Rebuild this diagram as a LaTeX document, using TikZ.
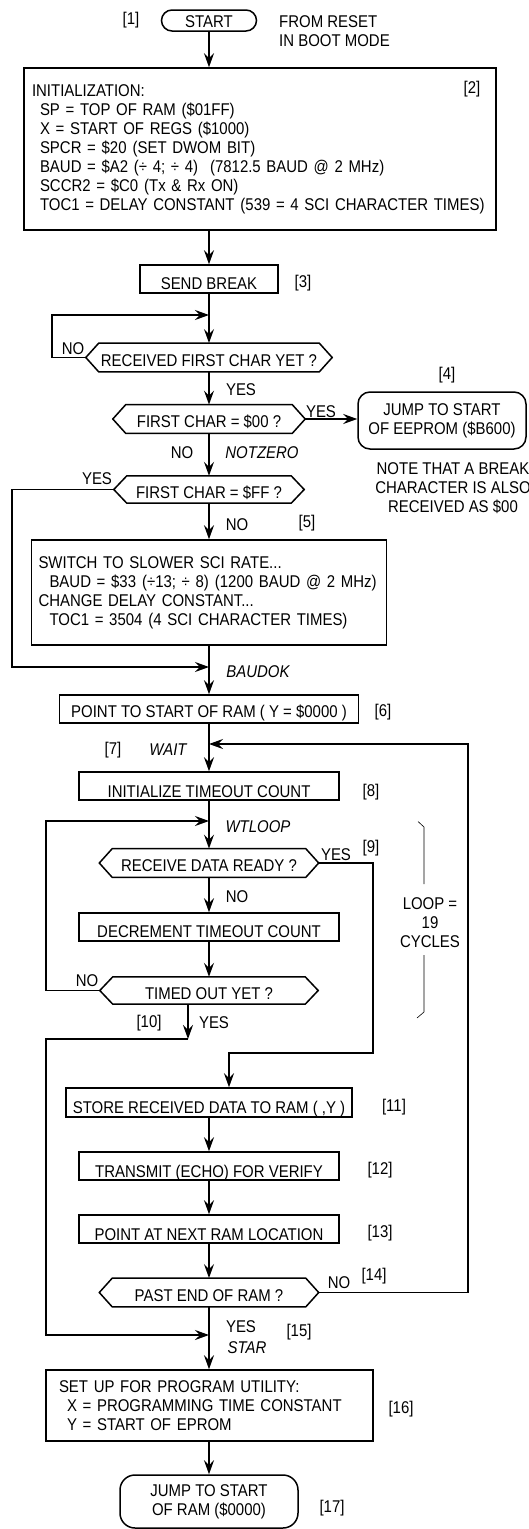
\documentclass[tikz,border=0pt]{standalone}
\usepackage{fontspec}
\setmainfont{Liberation Sans}[FakeStretch=0.88]
\usetikzlibrary{arrows.meta,calc}
\newcommand\hexdraw[1]{\draw[ln] (#1.west) -- ([xshift=13pt]#1.north west) -- ([xshift=-13pt]#1.north east) -- (#1.east) -- ([xshift=-13pt]#1.south east) -- ([xshift=13pt]#1.south west) -- cycle;}
\begin{document}
\begin{tikzpicture}[x=1pt,y=-1pt,
 every node/.style={font=\fontsize{17}{19}\selectfont},
 ln/.style={line width=1.5pt},
 arr/.style={ln,-{Stealth[length=14pt,width=10pt,inset=5pt]}},
 pbox/.style={draw,ln,rectangle,inner sep=0pt,text height=25pt,text depth=3pt,minimum height=28pt},
 mbox/.style={draw,ln,rectangle,inner ysep=0pt,align=left},
 term/.style={draw,ln,rectangle,inner sep=0pt,align=center},
 hexa/.style={inner sep=0pt,text height=23pt,text depth=5.5pt},
 lbl/.style={inner sep=0pt},
 lblc/.style={inner sep=0pt,align=center},
 bracel/.style={line width=0.6pt}]
\useasboundingbox (0,0) rectangle (528,1529);

% top
\node[pbox,rounded corners=10.5pt,minimum width=95pt,minimum height=21pt,text height=17pt,text depth=4pt] (start) at (209,20.5) {START};
\node[lbl] (n1) at (131,20) {[1]};
\node[lbl,align=left,anchor=west] (from) at (279,30.75) {FROM RESET\\IN BOOT MODE};

\node[mbox,minimum width=472pt,minimum height=162pt,text width=456pt,inner xsep=8pt] (init) at (260,149) {INITIALIZATION:\\
\hspace*{8pt}SP = TOP OF RAM (\$01FF)\\
\hspace*{8pt}X = START OF REGS (\$1000)\\
\hspace*{8pt}SPCR = \$20\hspace{6pt}(SET DWOM BIT)\\
\hspace*{8pt}BAUD = \$A2 (÷ 4; ÷ 4)\hspace{12pt}(7812.5 BAUD @ 2 MHz)\\
\hspace*{8pt}SCCR2 = \$C0\hspace{6pt}(Tx \& Rx ON)\\
\hspace*{8pt}TOC1 = DELAY CONSTANT\hspace{6pt}(539 = 4 SCI CHARACTER TIMES)};
\node[lbl] (n2) at (472,89) {[2]};

\node[pbox,minimum width=138pt,text height=24pt,text depth=4pt] (send) at (209,279) {SEND BREAK};
\node[lbl] (n3) at (303,283) {[3]};

\node[hexa,minimum width=246pt] (h1) at (209,357.5) {RECEIVED FIRST CHAR YET ?};
\node[lbl] (no1) at (73,349) {NO};
\node[lbl] (y1) at (241,390) {YES};

\node[hexa,minimum width=192pt] (h2) at (209,419) {FIRST CHAR = \$00 ?};
\node[lbl] (y2) at (321,412) {YES};
\node[term,rounded corners=12pt,minimum width=168pt,minimum height=57pt] (jee) at (442,420.5) {JUMP TO START\\OF EEPROM (\$B600)};
\node[lbl] (n4) at (447,375) {[4]};
\node[lblc] (note) at (453,488) {NOTE THAT A BREAK\\CHARACTER IS ALSO\\RECEIVED AS \$00};
\node[lbl] (no2) at (182,453) {NO};
\node[lbl] (notzero) at (262,453) {\itshape NOTZERO};

\node[hexa,minimum width=190pt,text height=22pt,text depth=5pt] (h3) at (209,489.5) {FIRST CHAR = \$FF ?};
\node[lbl] (y3) at (97,479) {YES};
\node[lbl] (no3) at (237,525) {NO};
\node[lbl] (n5) at (307,523) {[5]};

\node[mbox,minimum width=355pt,minimum height=105pt,text width=341pt,inner xsep=7pt] (slow) at (209,592.5) {SWITCH TO SLOWER SCI RATE...\\
\hspace*{11pt}BAUD = \$33\hspace{6pt}(÷13; ÷ 8)\hspace{6pt}(1200 BAUD @ 2 MHz)\\
CHANGE DELAY CONSTANT...\\
\hspace*{11pt}TOC1 = 3504\hspace{6pt}(4 SCI CHARACTER TIMES)};
\node[lbl] (baudok) at (258,672) {\itshape BAUDOK};

\node[pbox,minimum width=299pt,text height=22.5pt,text depth=5.5pt] (ram) at (209,709) {POINT TO START OF RAM ( Y = \$0000 )};
\node[lbl] (n6) at (383,712) {[6]};
\node[lbl] (n7) at (113,750) {[7]};
\node[lbl] (wait) at (168,750) {\itshape WAIT};

\node[pbox,minimum width=260pt] (itc) at (209,786) {INITIALIZE TIMEOUT COUNT};
\node[lbl] (n8) at (371,792) {[8]};
\node[lbl] (wtloop) at (258,827) {\itshape WTLOOP};

\node[hexa,minimum width=219pt] (h4) at (209,863) {RECEIVE DATA READY ?};
\node[lbl] (y4) at (336,855) {YES};
\node[lbl] (n9) at (371,848) {[9]};
\node[lbl] (no4) at (237,897) {NO};

\node[pbox,minimum width=260pt,text height=24.5pt,text depth=3.5pt] (dec) at (209,927) {DECREMENT TIMEOUT COUNT};

\node[hexa,minimum width=218pt,text height=22pt,text depth=5pt] (h5) at (209,990.5) {TIMED OUT YET ?};
\node[lbl] (no5) at (87,981) {NO};
\node[lbl] (n10) at (149,1023) {[10]};
\node[lbl] (y5) at (214,1023) {YES};

\node[lblc] (loop) at (430,922.5) {LOOP =\\19\\CYCLES};

\node[pbox,minimum width=286pt,minimum height=29pt,text height=25pt,text depth=4pt] (store) at (209,1102.5) {STORE RECEIVED DATA TO RAM ( ,Y )};
\node[lbl] (n11) at (394,1107) {[11]};
\node[pbox,minimum width=260pt,text height=25.5pt,text depth=2.5pt] (echo) at (209,1166) {TRANSMIT (ECHO) FOR VERIFY};
\node[lbl] (n12) at (380,1170) {[12]};
\node[pbox,minimum width=260pt,text height=25.5pt,text depth=2.5pt] (next) at (209,1229) {POINT AT NEXT RAM LOCATION};
\node[lbl] (n13) at (380,1233) {[13]};

\node[hexa,minimum width=219pt] (h6) at (209,1292.5) {PAST END OF RAM ?};
\node[lbl] (no6) at (339,1283) {NO};
\node[lbl] (n14) at (374,1276) {[14]};
\node[lbl] (y6) at (241,1327) {YES};
\node[lbl] (star) at (247,1348) {\itshape STAR};
\node[lbl] (n15) at (299,1332) {[15]};

\node[mbox,minimum width=327pt,minimum height=71pt,text width=301pt,inner xsep=13pt] (setup) at (209.5,1405.5) {SET UP FOR PROGRAM UTILITY:\\
\hspace*{8pt}X = PROGRAMMING TIME CONSTANT\\
\hspace*{8pt}Y = START OF EPROM};
\node[lbl] (n16) at (401,1409) {[16]};

\node[term,rounded corners=15pt,minimum width=178pt,minimum height=53pt] (jram) at (209,1501.5) {JUMP TO START\\OF RAM (\$0000)};
\node[lbl] (n17) at (332,1508) {[17]};

% hexagons
\hexdraw{h1}\hexdraw{h2}\hexdraw{h3}\hexdraw{h4}\hexdraw{h5}\hexdraw{h6}

% junctions
\coordinate (j1) at (209,315);
\coordinate (j2) at (209,667);
\coordinate (j3) at (209,744);
\coordinate (j4) at (209,821);
\coordinate (j5) at (209,1335);
\coordinate (k10) at (188,1039);

% connectors
\draw[arr] (start.south) -- (start.south |- init.north);
\draw[arr] (send.north |- init.south) -- (send.north);
\draw[arr] (send.south) -- (h1.north);
\draw[arr] (h1.west) -- (52,357.5) -- (52,315) -- (j1);
\draw[arr] (h1.south) -- (h2.north);
\draw[arr] (h2.east) -- (h2.east -| jee.west);
\draw[arr] (h2.south) -- (h3.north);
\draw[arr] (h3.west) -- (12,489.5) -- (12,667) -- (j2);
\draw[arr] (h3.south) -- (slow.north);
\draw[arr] (slow.south) -- (ram.north);
\draw[arr] (ram.south) -- (itc.north);
\draw[arr] (h6.east) -- (468,1292.5) -- (468,744) -- (j3);
\draw[arr] (itc.south) -- (h4.north);
\draw[arr] (h5.west) -- (46,990.5) -- (46,821) -- (j4);
\draw[arr] (h4.south) -- (dec.north);
\draw[arr] (dec.south) -- (h5.north);
\draw[arr] (h4.east) -- (373,863) -- (373,1053) -- (229,1053) -- (229,1053 |- store.north);
\draw[arr] (188,990.5 |- h5.south) -- (k10);
\draw[arr] (k10) -- (46,1039) -- (46,1335) -- (j5);
\draw[arr] (store.south) -- (echo.north);
\draw[arr] (echo.south) -- (next.north);
\draw[arr] (next.south) -- (h6.north);
\draw[arr] (h6.south) -- (setup.north -| h6.south);
\draw[arr] (setup.south -| jram.north) -- (jram.north);

% loop brace
\draw[bracel] (418,821.5) -- (424,827) -- (424,884);
\draw[bracel] (424,955) -- (424,1012) -- (417,1018);
\end{tikzpicture}
\end{document}
